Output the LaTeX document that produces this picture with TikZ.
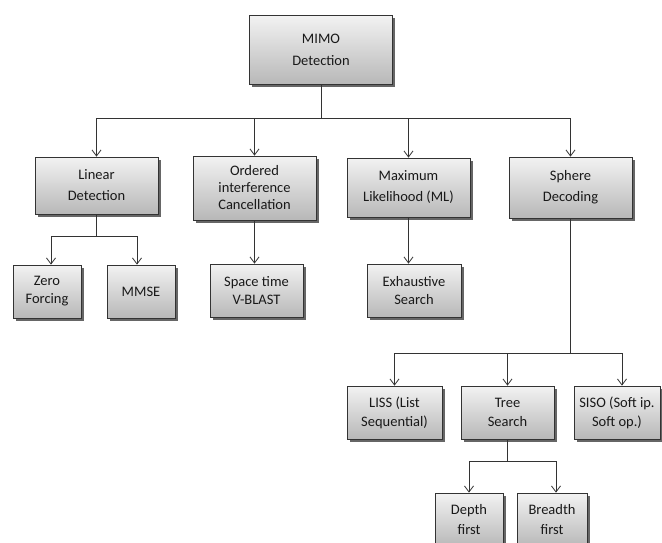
\documentclass[tikz,border=0pt]{standalone}
\usepackage{fontspec}
\setmainfont{Carlito}
\usetikzlibrary{arrows.meta,shadows}
\begin{document}
\begin{tikzpicture}[x=1pt,y=-1pt,
  box/.style={draw=black!80, line width=0.8pt, top color=black!5, bottom color=black!28,
    drop shadow={shadow xshift=2.5pt, shadow yshift=-2.5pt, fill=black!60, opacity=1},
    inner sep=0pt, align=center, text=black!90,
    font=\fontsize{14.5}{20}\selectfont},
  conn/.style={draw=black!80, line width=0.8pt},
  arr/.style={conn, -{Straight Barb[length=6pt,width=9pt]}}]
\useasboundingbox (0,0) rectangle (662,543);
\clip (0,0) rectangle (662,543);
\node[box, minimum width=143pt, minimum height=69pt, font=\fontsize{14.5}{22}\selectfont] (mimo) at (321,50) {MIMO\\Detection};
\node[box, minimum width=123pt, minimum height=57pt, font=\fontsize{14.5}{21}\selectfont] (lin) at (96.5,185.5) {Linear\\Detection};
\node[box, minimum width=123pt, minimum height=64pt, font=\fontsize{14.5}{17}\selectfont] (oic) at (254.5,188) {Ordered\\interference\\Cancellation};
\node[box, minimum width=123pt, minimum height=59pt, font=\fontsize{14.5}{21}\selectfont] (ml) at (408.5,187.5) {Maximum\\Likelihood (ML)};
\node[box, minimum width=123pt, minimum height=61pt, font=\fontsize{14.5}{21}\selectfont] (sd) at (570.5,187.5) {Sphere\\Decoding};
\node[box, minimum width=68pt, minimum height=53pt, font=\fontsize{14.5}{18}\selectfont] (zf) at (47,291.5) {Zero\\Forcing};
\node[box, minimum width=68pt, minimum height=53pt] (mmse) at (141,291.5) {MMSE};
\node[box, minimum width=93pt, minimum height=53pt, font=\fontsize{14.5}{18}\selectfont] (stv) at (256.5,290.5) {Space time\\V-BLAST};
\node[box, minimum width=94pt, minimum height=53pt, font=\fontsize{14.5}{18}\selectfont] (ex) at (414,290.5) {Exhaustive\\Search};
\node[box, minimum width=95pt, minimum height=53pt, font=\fontsize{14.5}{19}\selectfont] (liss) at (394.5,412.5) {LISS (List\\Sequential)};
\node[box, minimum width=93pt, minimum height=53pt, font=\fontsize{14.5}{19}\selectfont] (tree) at (507.5,412.5) {Tree\\Search};
\node[box, minimum width=86pt, minimum height=53pt, font=\fontsize{14.5}{19}\selectfont] (siso) at (617,412.5) {SISO (Soft ip.\\Soft op.)};
\node[box, minimum width=68pt, minimum height=54pt] (depth) at (469,520) {Depth\\first};
\node[box, minimum width=70pt, minimum height=54pt] (breadth) at (552,520) {Breadth\\first};
\coordinate (j1) at (321,118);
\coordinate (j2) at (96.5,236);
\coordinate (j3) at (570.5,353);
\coordinate (j4) at (507.5,461);
\draw[conn] (mimo) -- (j1);
\draw[arr] (j1) -| (lin);
\draw[arr] (j1) -| (oic);
\draw[arr] (j1) -| (ml);
\draw[arr] (j1) -| (sd);
\draw[conn] (lin) -- (j2);
\draw[arr] (j2) -| ([xshift=4pt]zf.north);
\draw[arr] (j2) -| ([xshift=-4pt]mmse.north);
\draw[arr] (oic) -- (stv.north -| oic.south);
\draw[arr] (ml) -- (ex.north -| ml.south);
\draw[conn] (sd) -- (j3);
\draw[arr] (j3) -| (liss);
\draw[arr] (j3) -| (tree);
\draw[arr] (j3) -| ([xshift=5pt]siso.north);
\draw[conn] (tree) -- (j4);
\draw[arr] (j4) -| (depth);
\draw[arr] (j4) -| ([xshift=4pt]breadth.north);
\end{tikzpicture}
\end{document}
